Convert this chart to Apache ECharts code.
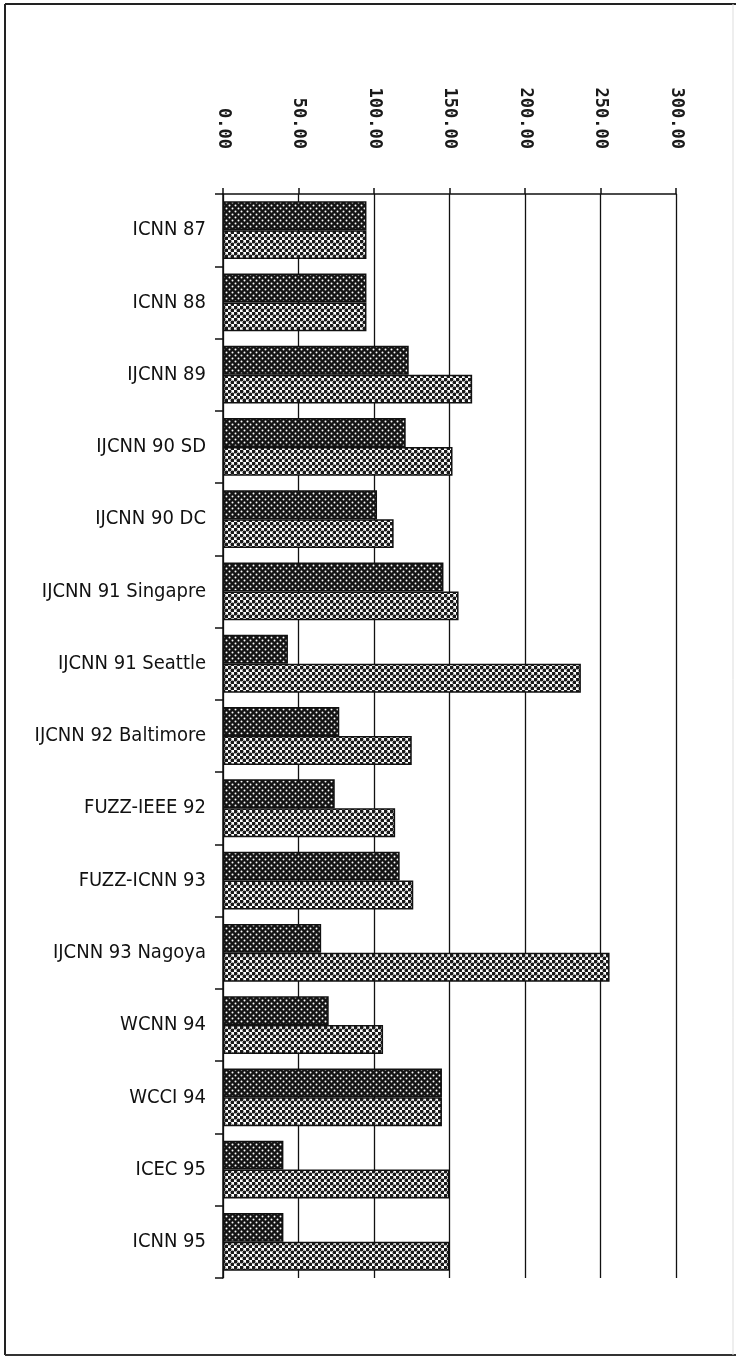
<!DOCTYPE html>
<html>
<head>
<meta charset="utf-8">
<script src="https://cdn.jsdelivr.net/npm/echarts@6/dist/echarts.min.js"></script>
<style>
  html, body { margin: 0; padding: 0; background: #fff; }
  #main { width: 736px; height: 1359px; }
</style>
</head>
<body>
<div id="main"></div>
<script>
// conference names, top to bottom
var conferences = [
  "ICNN 87", "ICNN 88", "IJCNN 89", "IJCNN 90 SD", "IJCNN 90 DC",
  "IJCNN 91 Singapre", "IJCNN 91 Seattle", "IJCNN 92 Baltimore", "FUZZ-IEEE 92",
  "FUZZ-ICNN 93", "IJCNN 93 Nagoya", "WCNN 94", "WCCI 94", "ICEC 95", "ICNN 95"
];
// upper (dark) bar of each pair
var darkValues = [95, 95, 123, 121, 102, 146, 43, 77, 74, 117, 65, 70, 145, 40, 40];
// lower (light) bar of each pair
var lightValues = [95, 95, 165, 152, 113, 156, 237, 125, 114, 126, 256, 106, 145, 150, 150];
// value axis
var axisMin = 0, axisMax = 300, axisStep = 50;

// dotted fill patterns like the printed original
function makePattern(bg, fg, r) {
  var c = document.createElement('canvas');
  c.width = 6; c.height = 6;
  var ctx = c.getContext('2d');
  ctx.fillStyle = bg;
  ctx.fillRect(0, 0, 6, 6);
  ctx.fillStyle = fg;
  [[1.5, 1.5], [4.5, 4.5]].forEach(function (p) {
    ctx.beginPath();
    ctx.arc(p[0], p[1], r, 0, Math.PI * 2);
    ctx.fill();
  });
  return c;
}
var darkFill = { image: makePattern('#141414', '#ffffff', 1.0), repeat: 'repeat' };
var lightFill = { image: makePattern('#ffffff', '#1a1a1a', 1.95), repeat: 'repeat' };

var chart = echarts.init(document.getElementById('main'));

var option = {
  backgroundColor: '#fff',
  animation: false,
  grid: { left: 223, top: 194, right: 60, bottom: 81, containLabel: false },
  xAxis: {
    type: 'value',
    position: 'top',
    min: axisMin,
    max: axisMax,
    interval: axisStep,
    axisLine: { show: true, lineStyle: { color: '#111', width: 1.5 } },
    axisTick: { show: true, length: 6, lineStyle: { color: '#111', width: 1.5 } },
    splitLine: { show: true, lineStyle: { color: '#111', width: 1.3 } },
    axisLabel: {
      rotate: 90,
      margin: 45,
      color: '#1a1a1a',
      fontFamily: 'DejaVu Sans Mono, monospace',
      fontWeight: 'bold',
      fontSize: 17,
      formatter: function (v) { return v.toFixed(2); }
    }
  },
  yAxis: {
    type: 'category',
    data: conferences,
    inverse: true,
    axisLine: { show: true, lineStyle: { color: '#111', width: 1.5 } },
    axisTick: { show: true, length: 8, lineStyle: { color: '#111', width: 1.5 } },
    axisLabel: {
      margin: 17,
      color: '#111',
      fontFamily: '"DejaVu Sans Condensed", "DejaVu Sans", sans-serif',
      fontWeight: 'condensed',
      fontSize: 20
    }
  },
  series: [
    {
      name: 'dark',
      type: 'bar',
      data: darkValues,
      barGap: '0%',
      barCategoryGap: '20%',
      itemStyle: { color: darkFill, borderColor: '#111', borderWidth: 1.5 }
    },
    {
      name: 'light',
      type: 'bar',
      data: lightValues,
      itemStyle: { color: lightFill, borderColor: '#111', borderWidth: 1.5 }
    }
  ],
  graphic: [
    // page frame
    { type: 'line', shape: { x1: 5, y1: 4, x2: 736, y2: 4 }, style: { stroke: '#222', lineWidth: 2 } },
    { type: 'line', shape: { x1: 5, y1: 4, x2: 5, y2: 1355 }, style: { stroke: '#222', lineWidth: 2 } },
    { type: 'line', shape: { x1: 5, y1: 1355, x2: 736, y2: 1355 }, style: { stroke: '#333', lineWidth: 2 } },
    { type: 'line', shape: { x1: 733, y1: 4, x2: 733, y2: 1355 }, style: { stroke: '#ddd', lineWidth: 1 } }
  ]
};

chart.setOption(option);
</script>
</body>
</html>
